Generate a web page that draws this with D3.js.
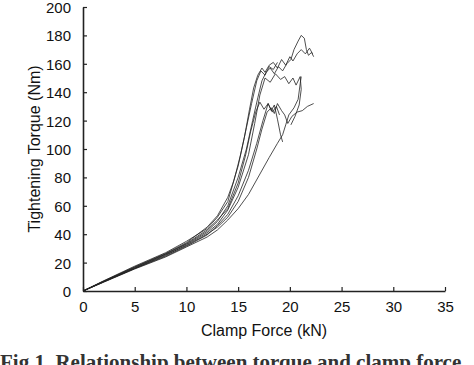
<!DOCTYPE html>
<html>
<head>
<meta charset="utf-8">
<script src="https://cdn.jsdelivr.net/npm/d3@7"></script>
<style>
  body { margin: 0; background: #fff; }
  svg { display: block; }
  .tick text { font-family: "Liberation Sans", Arial, sans-serif; font-size: 15px; fill: #111; }
</style>
</head>
<body>
<svg id="chart" width="474" height="365"></svg>
<script>
// tick values
const xTicks = [0, 5, 10, 15, 20, 25, 30, 35];
const yTicks = [0, 20, 40, 60, 80, 100, 120, 140, 160, 180, 200];

// test runs: [clamp force kN, torque Nm]
const run1 = [[0,0],[2,6.8],[5,16.5],[8,26],[10,33],[12,42],[13,49],[14,60],[15,80],[15.8,100],[16.4,120],[16.9,136],[17.3,148],[17.7,154],[18.1,157],[18.5,153],[18.9,158],[19.3,155],[19.7,160],[20.1,163],[20.4,170],[20.8,176],[21.1,180],[21.4,178],[21.6,170],[21.8,166],[22.1,168],[22.3,165]];
const run2 = [[0,0],[2,7],[5,17],[8,26.5],[10,34],[12,45],[13,53],[14,66],[14.5,76],[15,88],[15.6,108],[16.1,128],[16.5,143],[16.9,152],[17.3,157],[17.6,154],[18,159],[18.4,161],[18.8,157],[19.2,163],[19.6,159],[20,165],[20.3,162],[20.7,167],[21.1,170],[21.5,167],[21.9,171],[22.2,167]];
const run3 = [[0,0],[2,6.5],[5,16],[8,25],[10,32.5],[12,41],[13,47],[14,57],[15,73],[16,96],[16.6,118],[17.1,138],[17.6,150],[18.1,147],[18.6,153],[19.1,149],[19.5,151],[19.9,146],[20.3,150],[20.6,145],[21,151],[21.1,142],[20.9,131],[20.5,123],[20.1,117]];
const run4 = [[0,0],[2,6.2],[5,15.5],[8,24],[10,31],[12,38],[13,43],[14,50],[15,58],[16,68],[17,81],[18,94],[18.8,104],[19.3,110],[19.6,117],[19.9,124],[20.4,129],[20.8,135],[21,146],[21.1,151]];
const run5 = [[0,0],[2,6.5],[5,16],[8,25.5],[10,32],[12,40],[13,45],[14,52],[15,63],[16,80],[16.8,100],[17.3,114],[17.8,126],[18.2,129],[18.5,125],[18.8,132],[19.2,127],[19.5,124],[19.8,118],[20.2,123],[20.7,126],[21.2,127],[21.7,130],[22.3,132]];
const run6 = [[0,0],[2,7.2],[5,17.5],[8,27],[10,35],[12,44],[13,52],[14,63],[14.6,78],[15.2,95],[15.8,115],[16.3,132],[16.8,148],[17.2,155],[17.6,152],[18,158],[18.4,156],[18.8,161]];
const run7 = [[0,0],[2,6.4],[5,15.8],[8,24.5],[10,31.5],[12,39.5],[13,46],[14,54],[15,67],[16,85],[16.8,104],[17.4,120],[17.9,132],[18.2,127],[18.5,131],[18.8,121],[19.1,110],[19.3,105]];
const run8 = [[0,0],[2,6.8],[5,16.8],[8,26],[10,33.5],[12,43],[13,50],[14,58],[15,76],[15.7,95],[16.2,112],[16.7,126],[17.1,133],[17.5,128],[17.9,132],[18.3,126],[18.7,130],[19,124]];
const runs = [run1, run2, run3, run4, run5, run6, run7, run8];

const svg = d3.select('#chart');
const x = d3.scaleLinear().domain([0, 35]).range([83, 445]);
const y = d3.scaleLinear().domain([0, 200]).range([291, 7]);

const line = d3.line()
  .x(d => x(d[0]))
  .y(d => y(d[1]));

svg.append('g')
  .selectAll('path')
  .data(runs)
  .join('path')
    .attr('d', line)
    .attr('fill', 'none')
    .attr('stroke', '#222')
    .attr('stroke-width', 0.8);

// axes with inward ticks
const xAxis = svg.append('g')
  .attr('transform', `translate(0,${y(0)})`)
  .call(d3.axisBottom(x).tickValues(xTicks).tickSizeInner(-4).tickSizeOuter(0).tickPadding(10));
const yAxis = svg.append('g')
  .attr('transform', `translate(${x(0)},0)`)
  .call(d3.axisLeft(y).tickValues(yTicks).tickSizeInner(-4).tickSizeOuter(0).tickPadding(12));

[xAxis, yAxis].forEach(g => {
  g.select('.domain').attr('stroke', '#222').attr('stroke-width', 1.6);
  g.selectAll('.tick line').attr('stroke', '#222').attr('stroke-width', 1.2);
});
yAxis.selectAll('.tick text').attr('dy', '0.36em');

svg.append('text')
  .attr('x', (x(0) + x(35)) / 2)
  .attr('y', 336)
  .attr('text-anchor', 'middle')
  .attr('font-family', '"Liberation Sans", Arial, sans-serif')
  .attr('font-size', 16)
  .attr('fill', '#111')
  .text('Clamp Force (kN)');

svg.append('text')
  .attr('transform', `translate(40,${(y(0) + y(200)) / 2}) rotate(-90)`)
  .attr('text-anchor', 'middle')
  .attr('font-family', '"Liberation Sans", Arial, sans-serif')
  .attr('font-size', 16)
  .attr('fill', '#111')
  .text('Tightening Torque (Nm)');

// caption, cut off by the bottom edge
svg.append('text')
  .attr('x', 0)
  .attr('y', 369)
  .attr('font-family', '"Liberation Serif", "Times New Roman", serif')
  .attr('font-size', 21)
  .attr('font-weight', 'bold')
  .attr('fill', '#333')
  .text('Fig 1. Relationship between torque and clamp force');
</script>
</body>
</html>
